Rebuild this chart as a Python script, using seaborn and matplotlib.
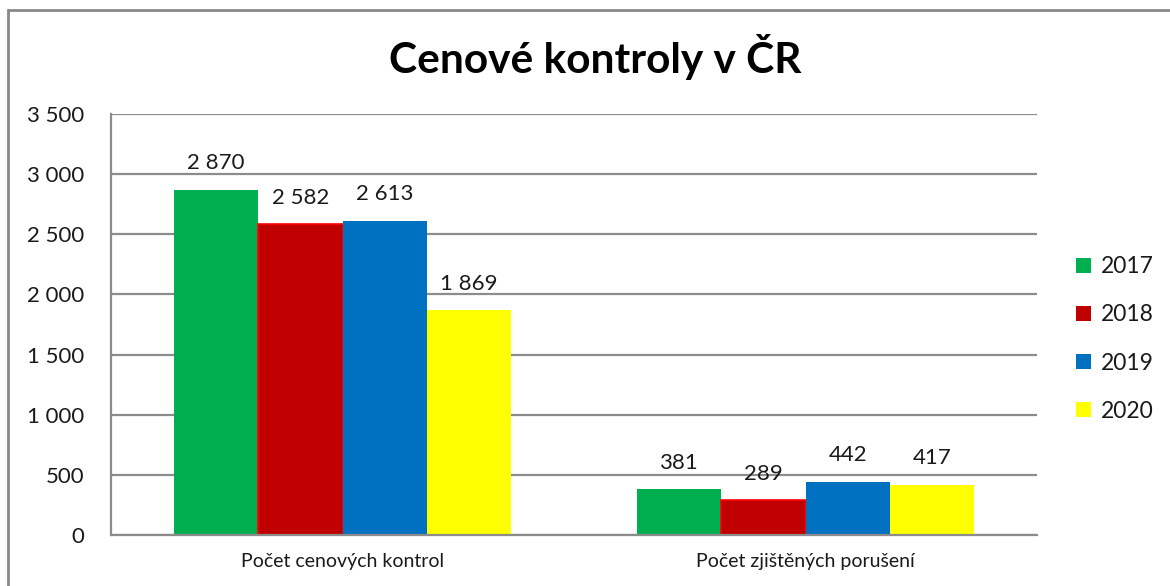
import matplotlib
matplotlib.use('Agg')
import matplotlib.pyplot as plt
import seaborn as sns
import pandas as pd
from matplotlib.patches import Rectangle

# data z grafu
kategorie = ['Počet cenových kontrol', 'Počet zjištěných porušení']
roky = ['2017', '2018', '2019', '2020']
kontroly = [2870, 2582, 2613, 1869]
poruseni = [381, 289, 442, 417]
barvy = ['#00B050', '#C00000', '#0070C0', '#FFFF00']

df = pd.DataFrame({
    'kategorie': [kategorie[0]] * 4 + [kategorie[1]] * 4,
    'rok': roky + roky,
    'hodnota': kontroly + poruseni,
})

sns.set_style('white')
plt.rcParams['font.family'] = ['Lato', 'DejaVu Sans']
text_barva = '#1a1a1a'
seda = '#8C8C8C'


def cislo(v):
    return f'{v:,.0f}'.replace(',', ' ')


fig = plt.figure(figsize=(11.7, 5.86), dpi=100)
ax = fig.add_axes([111 / 1170, 1 - 535 / 586, 926 / 1170, 421 / 586])

sns.barplot(data=df, x='kategorie', y='hodnota', hue='rok', palette=barvy,
            saturation=1, width=0.73, gap=0, ax=ax, linewidth=0, errorbar=None)

# cervene sloupce maji svetlejsi okraj
for p in ax.containers[1]:
    p.set_edgecolor('#FF0000')
    p.set_linewidth(1.2)

for c in ax.containers:
    ax.bar_label(c, fmt=cislo, padding=12, fontsize=16, color=text_barva)

ax.set_ylim(0, 3500)
ticks = list(range(0, 3501, 500))
ax.set_yticks(ticks)
ax.set_yticklabels([cislo(t) for t in ticks])
ax.yaxis.grid(True, color=seda, linewidth=1.6)
ax.set_axisbelow(True)
ax.tick_params(axis='y', length=0, pad=19, labelsize=16, labelcolor=text_barva)
ax.tick_params(axis='x', length=0, pad=13, labelsize=14, labelcolor=text_barva)
ax.set_xlabel('')
ax.set_ylabel('')
sns.despine(ax=ax, top=True, right=True)
for s in ['left', 'bottom']:
    ax.spines[s].set_color(seda)
    ax.spines[s].set_linewidth(1.6)

handles, labels = ax.get_legend_handles_labels()
ax.legend_.remove()
fig.legend(handles, labels, loc='center left', bbox_to_anchor=(1055 / 1170, 1 - 339 / 586),
           frameon=False, fontsize=16.5, handlelength=0.65, handleheight=0.65,
           handletextpad=0.45, labelspacing=1.18, labelcolor=text_barva)

fig.text(595 / 1170, 1 - 57 / 586, 'Cenové kontroly v ČR', ha='center', va='center',
         fontsize=30.5, fontweight='bold', color='black')

# ramecek grafu
fig.patches.append(Rectangle((8 / 1170, -0.1), 1.1, 1.1 - 10 / 586,
                             transform=fig.transFigure, fill=False,
                             edgecolor='#888888', linewidth=2))

fig.savefig('out.png', dpi=100)
